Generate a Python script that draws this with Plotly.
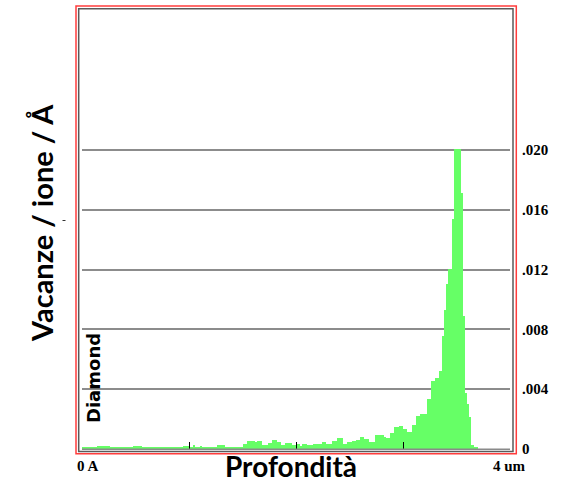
import plotly.graph_objects as go

# ---- data ----
bin_width_um = 0.02          # depth bin width (4 um / 200 bins)
vacancies = [
    0.00009, 0.00009, 0.00015, 0.00015, 0.00015, 0.00011, 0.00011, 0.00022, 0.00022, 0.00022,
    0.00022, 0.00022, 0.00022, 0.00007, 0.00007, 0.00007, 0.00007, 0.00007, 0.00007, 0.00007,
    0.00007, 0.00007, 0.00007, 0.00007, 0.00022, 0.00022, 0.00022, 0.00022, 0.00009, 0.00009,
    0.00009, 0.00009, 0.00015, 0.00015, 0.00015, 0.00011, 0.00011, 0.00011, 0.00011, 0.00015,
    0.00015, 0.00015, 0.00015, 0.00015, 0.00015, 0.00015, 0.00015, 0.00020, 0.00020, 0.00020,
    0.00015, 0.00015, 0.00025, 0.00015, 0.00015, 0.00022, 0.00011, 0.00011, 0.00011, 0.00011,
    0.00011, 0.00011, 0.00011, 0.00025, 0.00025, 0.00025, 0.00025, 0.00013, 0.00013, 0.00013,
    0.00013, 0.00013, 0.00013, 0.00013, 0.00013, 0.00035, 0.00035, 0.00051, 0.00051, 0.00051,
    0.00051, 0.00048, 0.00051, 0.00051, 0.00029, 0.00029, 0.00029, 0.00042, 0.00042, 0.00060,
    0.00060, 0.00047, 0.00047, 0.00029, 0.00029, 0.00042, 0.00042, 0.00042, 0.00029, 0.00029,
    0.00033, 0.00033, 0.00018, 0.00033, 0.00033, 0.00025, 0.00025, 0.00025, 0.00033, 0.00033,
    0.00033, 0.00033, 0.00045, 0.00045, 0.00033, 0.00033, 0.00033, 0.00055, 0.00055, 0.00071,
    0.00071, 0.00071, 0.00033, 0.00033, 0.00049, 0.00049, 0.00055, 0.00055, 0.00062, 0.00062,
    0.00082, 0.00082, 0.00067, 0.00067, 0.00049, 0.00049, 0.00049, 0.00091, 0.00091, 0.00091,
    0.00091, 0.00078, 0.00071, 0.00071, 0.00105, 0.00105, 0.00145, 0.00145, 0.00153, 0.00153,
    0.00133, 0.00133, 0.00113, 0.00113, 0.00160, 0.00160, 0.00220, 0.00220, 0.00233, 0.00233,
    0.00233, 0.00333, 0.00333, 0.00453, 0.00453, 0.00473, 0.00473, 0.00520, 0.00753, 0.00933,
    0.01107, 0.01207, 0.01207, 0.01540, 0.02010, 0.02010, 0.02010, 0.01713, 0.00893, 0.00373,
    0.00300, 0.00213, 0.00027, 0.00013, 0.00013, 0.0, 0.0, 0.0, 0.0, 0.0,
    0.0, 0.0, 0.0, 0.0, 0.0, 0.0, 0.0, 0.0, 0.0, 0.0,
]
y_tick_values = [0, 0.004, 0.008, 0.012, 0.016, 0.020]
y_tick_labels = ["0", ".004", ".008", ".012", ".016", ".020"]
x_tick_values = [0, 1, 2, 3]
x_end_labels = ["0 A", "4 um"]
y_title = "Vacanze / ione / Å"
x_title = "Profondità"
target_label = "Diamond"

# ---- layout geometry (pixels) ----
W, H = 561, 485
L, R, T, B = 82, 51, 9, 36
PW, PH = W - L - R, H - T - B


def xp(px):
    return (px - L) / PW


def yp(py):
    return (H - B - py) / PH


fig = go.Figure()
fig.add_trace(go.Bar(
    x0=bin_width_um / 2, dx=bin_width_um, y=vacancies,
    width=bin_width_um, marker=dict(color="#66ff66", line=dict(width=0)),
    hoverinfo="skip",
))

serif_bold = dict(family="Liberation Serif", size=15, color="black", weight="bold")

fig.update_layout(
    width=W, height=H,
    margin=dict(l=L, r=R, t=T, b=B, pad=0),
    paper_bgcolor="white", plot_bgcolor="white",
    bargap=0, showlegend=False,
    xaxis=dict(
        range=[0, 4], tickvals=x_tick_values, showticklabels=False,
        ticks="inside", ticklen=7, tickwidth=1, tickcolor="black",
        showgrid=False, zeroline=False, showline=False, fixedrange=True,
    ),
    yaxis=dict(
        range=[0, PH / 14950], side="right",
        tickvals=y_tick_values, ticktext=y_tick_labels, tickfont=serif_bold,
        ticklabelstandoff=11, ticks="",
        showgrid=True, gridcolor="#8c8c8c", gridwidth=1.5,
        zeroline=False, showline=False, fixedrange=True,
    ),
    shapes=[
        # baseline
        dict(type="line", xref="paper", yref="paper", x0=0, x1=1, y0=yp(449.3), y1=yp(449.3),
             line=dict(color="#8a8a8a", width=1.5)),
        # inner dark frame
        dict(type="rect", xref="paper", yref="paper",
             x0=xp(78.7), x1=xp(513), y0=yp(451.5), y1=yp(8.7),
             line=dict(color="#5a5a5a", width=1.5)),
        # outer red frame
        dict(type="rect", xref="paper", yref="paper",
             x0=xp(76), x1=xp(516.3), y0=yp(453.8), y1=yp(6),
             line=dict(color="#ff3c3c", width=1.5)),
        # small stray mark left of the plot
        dict(type="line", xref="paper", yref="paper",
             x0=xp(62.5), x1=xp(65.5), y0=yp(220.5), y1=yp(220.5),
             line=dict(color="#333333", width=1)),
    ],
    annotations=[
        dict(text=x_end_labels[0], xref="paper", yref="paper", x=xp(75), y=yp(466),
             xanchor="left", yanchor="middle", showarrow=False, font=serif_bold),
        dict(text=x_end_labels[1], xref="paper", yref="paper", x=xp(491), y=yp(466),
             xanchor="left", yanchor="middle", showarrow=False, font=serif_bold),
        dict(text=x_title, xref="paper", yref="paper", x=xp(291), y=yp(485),
             xanchor="center", yanchor="bottom", showarrow=False,
             font=dict(family="Lato", size=28, color="black", weight="bold")),
        dict(text=y_title, xref="paper", yref="paper", x=xp(41), y=yp(223),
             xanchor="center", yanchor="middle", showarrow=False, textangle=-90,
             font=dict(family="Lato", size=29, color="black", weight="bold")),
        dict(text=target_label, xref="paper", yref="paper", x=xp(93), y=yp(378),
             xanchor="center", yanchor="middle", showarrow=False, textangle=-90,
             font=dict(family="DejaVu Sans", size=18, color="black", weight="bold")),
    ],
)

fig.write_html("out.html")
